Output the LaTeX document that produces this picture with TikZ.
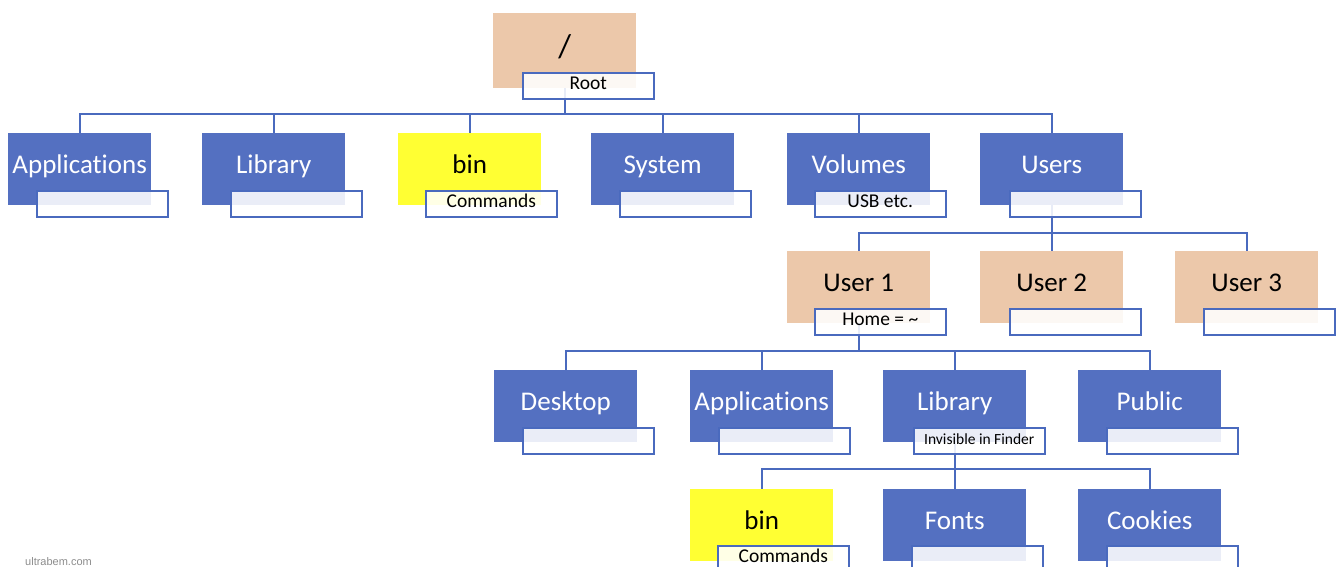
\documentclass[tikz,border=0pt]{standalone}
\usepackage{fontspec}
\setmainfont{Carlito}[Ligatures={NoCommon}]
\newfontfamily\wmfont{Liberation Sans}
\usetikzlibrary{calc}
\definecolor{boxblue}{RGB}{84,112,193}
\definecolor{lineblue}{RGB}{74,106,190}
\definecolor{tanfill}{RGB}{236,200,170}
\definecolor{yel}{RGB}{255,255,51}
\definecolor{wmgray}{RGB}{140,140,140}
\tikzset{
 dirbox/.style={rectangle, minimum width=143pt, minimum height=72pt, inner sep=0pt, anchor=north west, font=\fontsize{27}{30}\selectfont, text height=16pt, text depth=8pt},
 bluebox/.style={dirbox, fill=boxblue, text=white},
 tanbox/.style={dirbox, fill=tanfill, text=black},
 yelbox/.style={dirbox, fill=yel, text=black},
 tag/.style={rectangle, draw=lineblue, line width=1.5pt, fill=white, fill opacity=0.88, text opacity=1, minimum width=131pt, minimum height=26pt, inner sep=0pt, anchor=north west, font=\fontsize{19.5}{21}\selectfont, text height=12pt, text depth=6pt, text=black},
 conn/.style={draw=lineblue, line width=2pt},
}
\begin{document}
\begin{tikzpicture}[x=1pt,y=-1pt]
\useasboundingbox (0,0) rectangle (1338,567);
\clip (0,0) rectangle (1338,567);
% main boxes
\node[tanbox, minimum height=75pt, font=\fontsize{33}{36}\selectfont, text height=22pt, text depth=8pt] (root) at (493,13) {/};
\node[bluebox] (apps) at (8,133) {Applications};
\node[bluebox] (lib) at (202,133) {Library};
\node[yelbox] (bin) at (398,133) {bin};
\node[bluebox] (sys) at (591,133) {System};
\node[bluebox] (vol) at (787,133) {Volumes};
\node[bluebox] (users) at (980,133) {Users};
\node[tanbox] (u1) at (787,251) {User 1};
\node[tanbox] (u2) at (980,251) {User 2};
\node[tanbox] (u3) at (1175,251) {User 3};
\node[bluebox] (desk) at (494,370) {Desktop};
\node[bluebox] (apps2) at (690,370) {Applications};
\node[bluebox] (lib2) at (883,370) {Library};
\node[bluebox] (pub) at (1078,370) {Public};
\node[yelbox] (bin2) at (690,489) {bin};
\node[bluebox] (fonts) at (883,489) {Fonts};
\node[bluebox] (cook) at (1078,489) {Cookies};
% bus levels
\coordinate (b1) at (0,114);
\coordinate (b2) at (0,233);
\coordinate (b3) at (0,351);
\coordinate (b4) at (0,469);
% connectors
\foreach \c in {apps,lib,bin,sys,vol,users}
  \draw[conn] (root.south) |- (\c.north |- b1) -- (\c.north);
\foreach \c in {u1,u2,u3}
  \draw[conn] (users.south) |- (\c.north |- b2) -- (\c.north);
\foreach \c in {desk,apps2,lib2,pub}
  \draw[conn] (u1.south) |- (\c.north |- b3) -- (\c.north);
\foreach \c in {bin2,fonts,cook}
  \draw[conn] (lib2.south) |- (\c.north |- b4) -- (\c.north);
% labels
\node[tag] (rootT) at ($(root.south west)+(29,-16)$) {Root};
\node[tag] (appsT) at ($(apps.south west)+(28,-15)$) {};
\node[tag] (libT) at ($(lib.south west)+(28,-15)$) {};
\node[tag] (binT) at ($(bin.south west)+(27,-15)$) {Commands};
\node[tag] (sysT) at ($(sys.south west)+(28,-15)$) {};
\node[tag] (volT) at ($(vol.south west)+(27,-15)$) {USB etc.};
\node[tag] (usersT) at ($(users.south west)+(29,-15)$) {};
\node[tag] (u1T) at ($(u1.south west)+(27,-15)$) {Home = \textasciitilde};
\node[tag] (u2T) at ($(u2.south west)+(29,-15)$) {};
\node[tag] (u3T) at ($(u3.south west)+(28,-15)$) {};
\node[tag] (deskT) at ($(desk.south west)+(28,-15)$) {};
\node[tag] (apps2T) at ($(apps2.south west)+(28,-15)$) {};
\node[tag, font=\fontsize{15.5}{17}\selectfont] (lib2T) at ($(lib2.south west)+(30,-15)$) {Invisible in Finder};
\node[tag] (pubT) at ($(pub.south west)+(28,-15)$) {};
\node[tag] (bin2T) at ($(bin2.south west)+(27,-16)$) {Commands};
\node[tag] (fontsT) at ($(fonts.south west)+(28,-16)$) {};
\node[tag] (cookT) at ($(cook.south west)+(28,-16)$) {};
% watermark
\node[font=\wmfont\fontsize{11}{12}\selectfont, text=wmgray, anchor=base west, inner sep=0pt] (wm) at (25,565) {ultrabem.com};
\end{tikzpicture}
\end{document}
